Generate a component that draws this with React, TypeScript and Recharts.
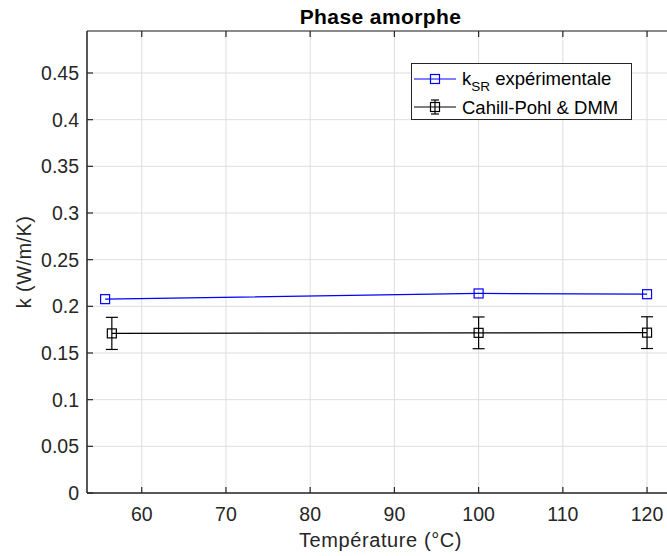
import React from 'react';
import { LineChart, Line, XAxis, YAxis, CartesianGrid, ErrorBar } from 'recharts';

const experimental = [
  { T: 55.65, k: 0.2077 },
  { T: 100, k: 0.2138 },
  { T: 120, k: 0.2130 },
];

const cahillPohl = [
  { T: 56.45, k: 0.1710, err: 0.0172 },
  { T: 100, k: 0.1716, err: 0.0170 },
  { T: 120, k: 0.1718, err: 0.0170 },
];

const xTicks = [60, 70, 80, 90, 100, 110, 120];
const yTicks = [0, 0.05, 0.1, 0.15, 0.2, 0.25, 0.3, 0.35, 0.4, 0.45];

const FONT = '"Liberation Sans", Arial, Helvetica, sans-serif';
const AXIS = '#262626';
const BLUE = '#0000ff';

const SquareDot = ({ cx, cy, stroke }: any) => (
  <rect x={cx - 4.5} y={cy - 4.5} width={9} height={9} fill="none" stroke={stroke} strokeWidth={1.2} />
);

const BottomTick = ({ x, y, payload }: any) => (
  <g>
    <line x1={x} y1={y} x2={x} y2={y - 6} stroke={AXIS} strokeWidth={1.2} />
    <text x={x} y={y + 28} textAnchor="middle" fontSize={19.5} fill={AXIS} fontFamily={FONT}>
      {payload.value}
    </text>
  </g>
);

const TopTick = ({ x, y }: any) => (
  <line x1={x} y1={y} x2={x} y2={y + 6} stroke={AXIS} strokeWidth={1.2} />
);

const LeftTick = ({ x, y, payload }: any) => (
  <g>
    <line x1={x} y1={y} x2={x + 6} y2={y} stroke={AXIS} strokeWidth={1.2} />
    <text x={x - 8} y={y} dy="0.36em" textAnchor="end" fontSize={19.5} fill={AXIS} fontFamily={FONT}>
      {String(payload.value)}
    </text>
  </g>
);

function LegendBox() {
  return (
    <div
      style={{
        position: 'absolute',
        left: 411,
        top: 63,
        width: 221,
        height: 57,
        border: `1px solid ${AXIS}`,
        background: '#fff',
        boxSizing: 'border-box',
      }}
    >
      <svg width={219} height={55} style={{ position: 'absolute', left: 0, top: 0 }}>
        <line x1={2} y1={15} x2={44} y2={15} stroke={BLUE} strokeWidth={1.2} />
        <rect x={18.5} y={10.5} width={9} height={9} fill="none" stroke={BLUE} strokeWidth={1.2} />
        <text x={50} y={21} fontSize={18.5} fontFamily={FONT} fill="#000">
          k
          <tspan fontSize={13.5} dy={6}>SR</tspan>
          <tspan dy={-6}> expérimentale</tspan>
        </text>
        <line x1={2} y1={43} x2={44} y2={43} stroke="#000" strokeWidth={1.2} />
        <line x1={23} y1={36} x2={23} y2={50} stroke="#000" strokeWidth={1.2} />
        <line x1={19} y1={36} x2={27} y2={36} stroke="#000" strokeWidth={1.2} />
        <line x1={19} y1={50} x2={27} y2={50} stroke="#000" strokeWidth={1.2} />
        <rect x={18.5} y={38.5} width={9} height={9} fill="none" stroke="#000" strokeWidth={1.2} />
        <text x={50} y={49.5} fontSize={18.5} fontFamily={FONT} fill="#000">
          Cahill-Pohl &amp; DMM
        </text>
      </svg>
    </div>
  );
}

export default function App() {
  return (
    <div style={{ position: 'fixed', left: 0, top: 0, width: 667, height: 556, overflow: 'hidden', background: '#fff' }}>
      <LineChart width={700} height={556} margin={{ top: 0, right: 26, bottom: 0, left: 0 }}>
        <CartesianGrid stroke="#dedede" strokeWidth={1} />
        <XAxis
          dataKey="T"
          type="number"
          domain={[53.5, 123.2]}
          ticks={xTicks}
          allowDataOverflow
          height={63}
          tickSize={0}
          tickMargin={0}
          tick={<BottomTick />}
          axisLine={{ stroke: AXIS, strokeWidth: 1.5 }}
          label={(props: any) => {
            const vb = props.viewBox;
            return (
              <text x={vb.x + vb.width / 2} y={vb.y + 54} textAnchor="middle" fontSize={20} letterSpacing={0.6} fill={AXIS} fontFamily={FONT}>
                Température (°C)
              </text>
            );
          }}
        />
        <XAxis
          xAxisId="top"
          orientation="top"
          dataKey="T"
          type="number"
          domain={[53.5, 123.2]}
          ticks={xTicks}
          allowDataOverflow
          height={31}
          tickSize={0}
          tickMargin={0}
          tick={<TopTick />}
          axisLine={{ stroke: AXIS, strokeWidth: 1.2 }}
          label={(props: any) => {
            const vb = props.viewBox;
            return (
              <text x={vb.x + vb.width / 2} y={24} textAnchor="middle" fontSize={21} letterSpacing={0.4} fontWeight="bold" fill="#000" fontFamily={FONT}>
                Phase amorphe
              </text>
            );
          }}
        />
        <YAxis
          type="number"
          domain={[0, 0.495]}
          ticks={yTicks}
          allowDataOverflow
          width={87}
          tickSize={0}
          tickMargin={0}
          tick={<LeftTick />}
          axisLine={{ stroke: AXIS, strokeWidth: 1.5 }}
          label={(props: any) => {
            const vb = props.viewBox;
            const cy = vb.y + vb.height / 2;
            return (
              <text x={31} y={cy} transform={`rotate(-90, 31, ${cy})`} textAnchor="middle" fontSize={20} letterSpacing={0.4} fill={AXIS} fontFamily={FONT}>
                k (W/m/K)
              </text>
            );
          }}
        />
        <Line
          data={experimental}
          dataKey="k"
          stroke={BLUE}
          strokeWidth={1.2}
          dot={<SquareDot />}
          activeDot={false}
          isAnimationActive={false}
        />
        <Line
          data={cahillPohl}
          dataKey="k"
          stroke="#000"
          strokeWidth={1.2}
          dot={<SquareDot />}
          activeDot={false}
          isAnimationActive={false}
        >
          <ErrorBar dataKey="err" width={6} stroke="#000" strokeWidth={1.2} direction="y" isAnimationActive={false} />
        </Line>
      </LineChart>
      <LegendBox />
    </div>
  );
}
